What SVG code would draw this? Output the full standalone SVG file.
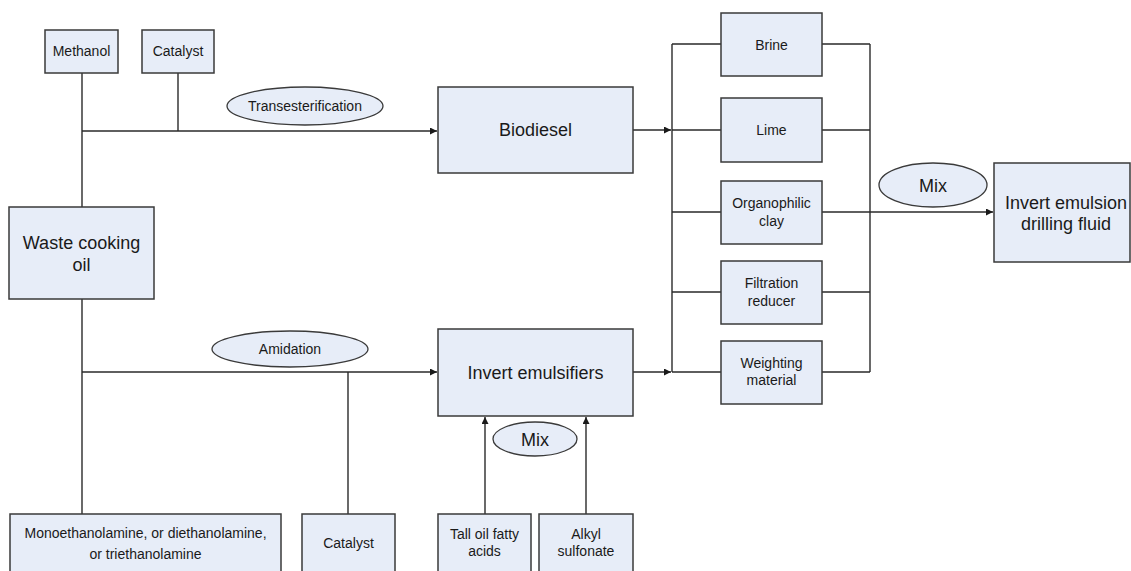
<svg xmlns="http://www.w3.org/2000/svg" width="1131" height="571" viewBox="0 0 1131 571">
<style>
.box{fill:#e7edf8;stroke:#3a3a3a;stroke-width:1.5}
.ell{fill:#e7edf8;stroke:#3a3a3a;stroke-width:1.3}
.ln{fill:none;stroke:#2a2a2a;stroke-width:1.4}
text{font-family:"Liberation Sans",Arial,sans-serif;fill:#1a1a1a;text-anchor:middle}
.s{font-size:14px}
.l{font-size:18px}
</style>
<defs>
<marker id="arr" viewBox="0 0 10 10" refX="10" refY="5" markerWidth="7" markerHeight="7" markerUnits="userSpaceOnUse" orient="auto">
<path d="M0,0 L10,5 L0,10 Z" fill="#1a1a1a"/>
</marker>
</defs>
<rect width="1131" height="571" fill="#ffffff"/>
<g id="connectors">
<path class="ln" d="M82,73 V207"/>
<path class="ln" d="M178,73 V131"/>
<path class="ln" d="M82,131 H437" marker-end="url(#arr)"/>
<path class="ln" d="M82,299 V514"/>
<path class="ln" d="M82,372 H437" marker-end="url(#arr)"/>
<path class="ln" d="M348,372 V514"/>
<path class="ln" d="M485,514 V417" marker-end="url(#arr)"/>
<path class="ln" d="M586,514 V417" marker-end="url(#arr)"/>
<path class="ln" d="M633,130 H671" marker-end="url(#arr)"/>
<path class="ln" d="M633,372 H671" marker-end="url(#arr)"/>
<path class="ln" d="M672,44 V372"/>
<path class="ln" d="M672,44 H721 M672,130 H721 M672,212 H721 M672,292 H721 M672,372 H721"/>
<path class="ln" d="M822,44 H870 M822,130 H870 M822,292 H870 M822,372 H870"/>
<path class="ln" d="M870,44 V372"/>
<path class="ln" d="M822,212 H993" marker-end="url(#arr)"/>
</g>
<g id="methanol"><rect class="box" x="45" y="30" width="73" height="43"/><text class="s" x="81.5" y="56">Methanol</text></g>
<g id="catalyst-top"><rect class="box" x="142" y="30" width="72" height="43"/><text class="s" x="178" y="56">Catalyst</text></g>
<g id="transesterification"><ellipse class="ell" cx="305" cy="106" rx="78" ry="19"/><text class="s" x="305" y="111">Transesterification</text></g>
<g id="biodiesel"><rect class="box" x="438" y="87" width="195" height="86"/><text class="l" x="535.5" y="136">Biodiesel</text></g>
<g id="waste-cooking-oil"><rect class="box" x="9" y="207" width="145" height="92"/><text class="l" x="81.5" y="248.5">Waste cooking</text><text class="l" x="81.5" y="270.5">oil</text></g>
<g id="amidation"><ellipse class="ell" cx="290" cy="349" rx="78" ry="18"/><text class="s" x="290" y="354">Amidation</text></g>
<g id="invert-emulsifiers"><rect class="box" x="438" y="329" width="195" height="87"/><text class="l" x="535.5" y="378.5">Invert emulsifiers</text></g>
<g id="mix-bottom"><ellipse class="ell" cx="535" cy="439" rx="42" ry="17"/><text class="l" x="535" y="445.5">Mix</text></g>
<g id="amines"><rect class="box" x="10" y="514" width="271" height="70"/><text class="s" x="145.5" y="538">Monoethanolamine, or diethanolamine,</text><text class="s" x="145.5" y="559">or triethanolamine</text></g>
<g id="catalyst-bottom"><rect class="box" x="302" y="514" width="93" height="70"/><text class="s" x="348.5" y="548">Catalyst</text></g>
<g id="tall-oil"><rect class="box" x="438" y="514" width="93" height="70"/><text class="s" x="484.5" y="539">Tall oil fatty</text><text class="s" x="484.5" y="556">acids</text></g>
<g id="alkyl-sulfonate"><rect class="box" x="539" y="514" width="94" height="70"/><text class="s" x="586" y="539">Alkyl</text><text class="s" x="586" y="556">sulfonate</text></g>
<g id="brine"><rect class="box" x="721" y="13" width="101" height="63"/><text class="s" x="771.5" y="49.5">Brine</text></g>
<g id="lime"><rect class="box" x="721" y="98" width="101" height="64"/><text class="s" x="771.5" y="135">Lime</text></g>
<g id="organophilic-clay"><rect class="box" x="721" y="181" width="101" height="63"/><text class="s" x="771.5" y="208">Organophilic</text><text class="s" x="771.5" y="226">clay</text></g>
<g id="filtration-reducer"><rect class="box" x="721" y="261" width="101" height="63"/><text class="s" x="771.5" y="288">Filtration</text><text class="s" x="771.5" y="306">reducer</text></g>
<g id="weighting-material"><rect class="box" x="721" y="341" width="101" height="63"/><text class="s" x="771.5" y="368">Weighting</text><text class="s" x="771.5" y="385">material</text></g>
<g id="mix-right"><ellipse class="ell" cx="933" cy="185" rx="54" ry="22"/><text class="l" x="933" y="191.5">Mix</text></g>
<g id="drilling-fluid"><rect class="box" x="994" y="163" width="136" height="99"/><text class="l" x="1066" y="208.5">Invert emulsion</text><text class="l" x="1066" y="229.5">drilling fluid</text></g>
</svg>
